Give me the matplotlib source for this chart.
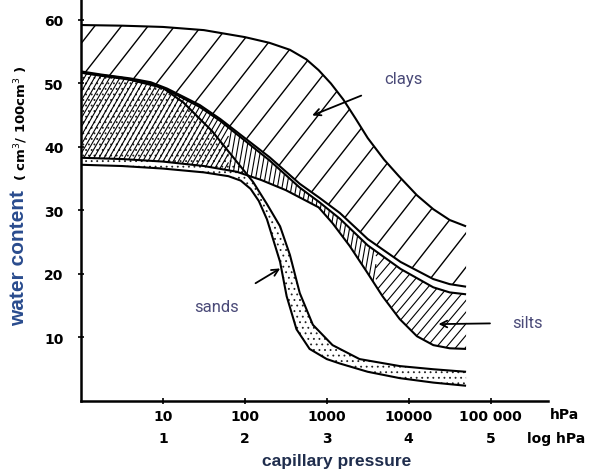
import numpy as np
import matplotlib
matplotlib.use('Agg')
import matplotlib.pyplot as plt
import matplotlib.transforms as mtransforms
from matplotlib.patches import Polygon
from matplotlib.collections import LineCollection

# x = log10(capillary pressure / hPa), y = water content (cm3/100cm3)
clays_upper_x = [0, 0.5, 1.0, 1.5, 2.0, 2.3, 2.55, 2.75, 2.9, 3.05, 3.2, 3.35, 3.5, 3.7, 3.88, 4.1, 4.3, 4.5, 4.7]
clays_upper_y = [59.2, 59.1, 58.9, 58.4, 57.3, 56.4, 55.3, 53.8, 52.1, 50.0, 47.5, 44.5, 41.4, 38.0, 35.4, 32.4, 30.2, 28.5, 27.5]

clays_lower_x = [0, 0.25, 0.6, 0.85, 1.05, 1.45, 1.7, 2.0, 2.3, 2.67, 2.91, 3.16, 3.5, 3.9, 4.3, 4.5, 4.7]
clays_lower_y = [51.9, 51.4, 50.8, 50.2, 49.2, 46.6, 44.4, 41.4, 38.4, 34.2, 32.0, 29.6, 25.5, 21.9, 19.2, 18.4, 18.0]

silts_upper_x = [0, 0.25, 0.6, 0.85, 1.05, 1.45, 1.7, 2.0, 2.3, 2.67, 2.91, 3.16, 3.5, 3.9, 4.3, 4.5, 4.7]
silts_upper_y = [51.7, 51.2, 50.6, 50.0, 49.0, 46.3, 44.1, 41.0, 37.9, 33.6, 31.3, 28.7, 24.5, 20.8, 17.9, 17.1, 16.8]

silts_lower_x = [0, 0.5, 1.0, 1.5, 1.9, 2.2, 2.5, 2.9, 3.07, 3.28, 3.49, 3.68, 3.89, 4.1, 4.3, 4.5, 4.7]
silts_lower_y = [38.3, 38.1, 37.7, 37.0, 36.1, 34.8, 33.2, 30.5, 28.0, 24.4, 20.3, 16.5, 12.9, 10.2, 8.8, 8.3, 8.2]

sands_upper_x = [0, 0.5, 1.0, 1.25, 1.6, 1.85, 2.1, 2.27, 2.43, 2.55, 2.67, 2.83, 3.07, 3.4, 3.89, 4.3, 4.7]
sands_upper_y = [51.7, 50.9, 49.3, 47.0, 42.5, 38.5, 34.5, 31.0, 27.5, 23.0, 17.0, 12.0, 8.8, 6.6, 5.5, 5.0, 4.6]

sands_lower_x = [0, 0.5, 1.0, 1.5, 1.8, 1.95, 2.07, 2.17, 2.27, 2.43, 2.51, 2.63, 2.79, 3.0, 3.16, 3.5, 3.89, 4.3, 4.7]
sands_lower_y = [37.2, 37.0, 36.6, 36.0, 35.4, 34.7, 33.4, 31.5, 28.6, 21.9, 16.5, 11.3, 8.2, 6.6, 5.9, 4.6, 3.6, 2.9, 2.4]

xtick_pos = [1, 2, 3, 4, 5]
xtick_hpa = ['10', '100', '1000', '10000', '100 000']
xtick_log = ['1', '2', '3', '4', '5']
yticks = [10, 20, 30, 40, 50, 60]

plt.rcParams['hatch.linewidth'] = 0.6

fig = plt.figure(figsize=(5.91, 4.77), dpi=100)
ax = fig.add_axes([81/591, 75/477, 467/591, 402/477])
ax.set_xlim(0, 5.7)
ax.set_ylim(0, 63.3)


def band(xu, yu, xl, yl):
    xs = np.r_[xu, xl[::-1]]
    ys = np.r_[yu, yl[::-1]]
    return np.column_stack([xs, ys])


def add_hatch(patch, angle, spacing, lw, xr=(-1, 10)):
    # parallel lines in pixel space, trimmed to an x range and clipped to the band
    x0, y0, x1, y1 = ax.bbox.extents
    d = np.array([np.cos(np.radians(angle)), np.sin(np.radians(angle))])
    n = np.array([-d[1], d[0]])
    c = np.array([(x0 + x1) / 2, (y0 + y1) / 2])
    corners = np.array([[x0, y0], [x1, y0], [x0, y1], [x1, y1]])
    proj = corners @ n
    L = np.hypot(x1 - x0, y1 - y0)
    inv = ax.transData.inverted()
    segs = []
    for off in np.arange(proj.min(), proj.max(), spacing):
        p = c + (off - c @ n) * n
        a, b = inv.transform(np.array([p - L * d, p + L * d]))
        if abs(b[0] - a[0]) < 1e-9:
            if xr[0] <= a[0] <= xr[1]:
                segs.append([a, b])
            continue
        t0 = (xr[0] - a[0]) / (b[0] - a[0])
        t1 = (xr[1] - a[0]) / (b[0] - a[0])
        lo, hi = max(0, min(t0, t1)), min(1, max(t0, t1))
        if hi > lo:
            segs.append([a + (b - a) * lo, a + (b - a) * hi])
    lc = LineCollection(segs, colors='black', linewidths=lw)
    ax.add_collection(lc, autolim=False)
    lc.set_clip_path(patch)


clays = Polygon(band(clays_upper_x, clays_upper_y, clays_lower_x, clays_lower_y),
                closed=True, facecolor='none', edgecolor='none')
silts = Polygon(band(silts_upper_x, silts_upper_y, silts_lower_x, silts_lower_y),
                closed=True, facecolor='none', edgecolor='none')
sands = Polygon(band(sands_upper_x, sands_upper_y, sands_lower_x, sands_lower_y),
                closed=True, facecolor='none', edgecolor='#222222', linewidth=0, hatch='...')
for p in (clays, silts, sands):
    ax.add_patch(p)

add_hatch(clays, 52, 21, 1.0)
add_hatch(silts, 60, 4.4, 0.8, xr=(-1, 1.8))
add_hatch(silts, 80, 4.6, 0.8, xr=(1.8, 3.6))
add_hatch(silts, 50, 7.5, 0.8, xr=(3.6, 10))

for xs, ys in [(clays_upper_x, clays_upper_y), (clays_lower_x, clays_lower_y),
               (silts_upper_x, silts_upper_y), (silts_lower_x, silts_lower_y),
               (sands_upper_x, sands_upper_y), (sands_lower_x, sands_lower_y)]:
    ax.plot(xs, ys, color='black', lw=1.5, solid_capstyle='butt', solid_joinstyle='round')

for s in ['top', 'right']:
    ax.spines[s].set_visible(False)
for s in ['left', 'bottom']:
    ax.spines[s].set_linewidth(1.8)

ax.set_yticks(yticks)
ax.set_yticklabels([str(v) for v in yticks], fontsize=10, fontweight='bold')
ax.set_xticks(xtick_pos)
ax.set_xticklabels(xtick_hpa, fontsize=10, fontweight='bold')
ax.tick_params(axis='y', direction='inout', length=5, width=1.2, pad=10)
ax.tick_params(axis='x', direction='inout', length=5, width=1.2, pad=3)

trans = mtransforms.blended_transform_factory(ax.transData, ax.transAxes)
for xp, lab in zip(xtick_pos, xtick_log):
    ax.text(xp, -0.092, lab, transform=trans, ha='center', va='center',
            fontsize=10, fontweight='bold')
ax.text(5.9, -0.032, 'hPa', transform=trans, ha='center', va='center',
        fontsize=10, fontweight='bold', clip_on=False)
ax.text(5.44, -0.092, 'log hPa', transform=trans, ha='left', va='center',
        fontsize=10, fontweight='bold', clip_on=False)

fig.text(337/591, 1 - 462/477, 'capillary pressure', ha='center', va='center',
         fontsize=12.5, fontweight='bold', family='Liberation Sans', color='#1f2d4d')
fig.text(19/591, 1 - 258/477, 'water content', ha='center', va='center', rotation=90,
         fontsize=15, fontweight='bold', family='Liberation Sans', color='#2a4c8e')
fig.text(21/591, 1 - 123/477, '( cm$^3$/ 100cm$^3$ )', ha='center', va='center', rotation=90,
         fontsize=9.5, fontweight='bold', color='black')

lab_kw = dict(fontsize=12, family='Roboto', color='#4a4a78', ha='center', va='center')
arr_kw = dict(arrowstyle='->', lw=1.3, color='black', mutation_scale=12)
ax.annotate('clays', xy=(2.79, 44.8), xytext=(3.94, 50.8),
            arrowprops=dict(arr_kw, shrinkA=16), **lab_kw)
ax.annotate('sands', xy=(2.46, 21.1), xytext=(1.66, 14.9),
            arrowprops=dict(arr_kw, shrinkA=18), **lab_kw)
ax.annotate('silts', xy=(4.33, 12.1), xytext=(5.45, 12.3),
            arrowprops=dict(arr_kw, shrinkA=14), **lab_kw)

fig.savefig('out.png', dpi=100)
